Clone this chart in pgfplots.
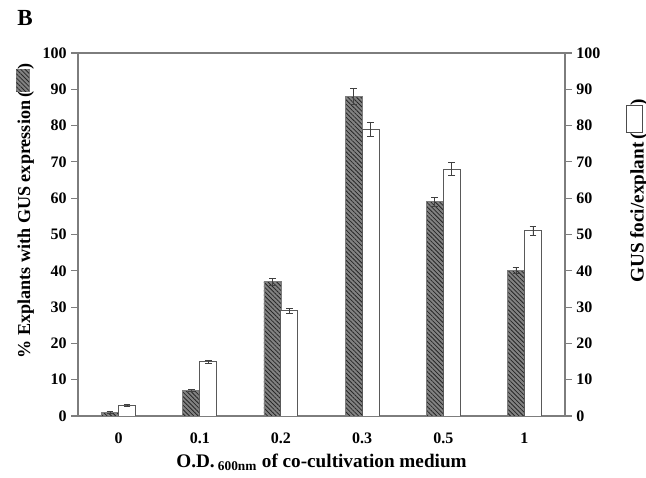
\documentclass[border=0pt]{standalone}
\usepackage{fontspec}
\setmainfont{Liberation Serif}
\usepackage{pgfplots}
\pgfplotsset{compat=1.18}
\usetikzlibrary{patterns.meta}
\definecolor{axisgray}{RGB}{125,125,125}
\definecolor{hatchfill}{RGB}{130,130,130}

\tikzset{hatched/.style={fill=hatchfill, postaction={pattern={Lines[angle=-45,distance=2.3pt,line width=0.6pt]}, pattern color=black!85}}}

\newcommand{\hatchbox}{\tikz[baseline=-0.05em]\draw[axisgray, hatched] (0,0) rectangle (1.2em,0.7em);}
\newcommand{\whitebox}{\tikz[baseline=-0.1em]\draw[black!70, fill=white] (0,0) rectangle (1.4em,0.8em);}

\begin{document}
\begin{tikzpicture}[x=0.75pt,y=0.75pt]
\begin{axis}[
  name=ax,
  scale only axis,
  width=487*0.75pt, height=363*0.75pt,
  xmin=-0.5, xmax=5.5,
  ymin=0, ymax=100,
  ybar=0pt, bar width=12.75pt,
  xtick={0,1,2,3,4,5},
  xticklabels={0,0.1,0.2,0.3,0.5,1},
  ytick={0,10,...,100},
  ytick pos=left,
  xtick style={draw=none},
  tick align=outside,
  major tick length=5pt,
  axis line style={axisgray, line width=0.8pt},
  every tick/.style={axisgray, line width=0.8pt},
  tick label style={font=\bfseries\large},
  /pgf/number format/assume math mode=true,
  xticklabel style={yshift=-4pt},
  xlabel={O.D.\,\textsubscript{600nm} of co-cultivation medium},
  xlabel style={font=\bfseries\Large, at={(rel axis cs:0.5,0)}, anchor=center, yshift=-46*0.75pt},
  ylabel={\% Explants with GUS expression\,(\hatchbox)},
  ylabel style={font=\bfseries\fontsize{13.6}{16}\selectfont, at={(rel axis cs:0,0.565)}, anchor=center, yshift=53*0.75pt},
  error bars/y dir=both,
  error bars/y explicit,
  error bars/error bar style={black!75, line width=0.6pt},
  error bars/error mark options={black!75, line width=0.6pt, mark size=2.5pt, rotate=90},
]
\addplot[draw=axisgray, line width=0.6pt, hatched] coordinates {
  (0,1) +- (0,0.2)
  (1,7) +- (0,0.3)
  (2,37) +- (0,0.9)
  (3,88) +- (0,2.2)
  (4,59) +- (0,1.3)
  (5,40) +- (0,0.8)
};
\addplot[draw=black!65, line width=0.7pt, fill=white] coordinates {
  (0,3) +- (0,0.3)
  (1,15) +- (0,0.4)
  (2,29) +- (0,0.7)
  (3,79) +- (0,2.0)
  (4,68) +- (0,1.8)
  (5,51) +- (0,1.2)
};
\end{axis}
\begin{axis}[
  scale only axis,
  width=487*0.75pt, height=363*0.75pt,
  xmin=-0.5, xmax=5.5,
  ymin=0, ymax=100,
  axis x line=none,
  axis y line*=right,
  ytick={0,10,...,100},
  tick align=outside,
  major tick length=5pt,
  axis line style={axisgray, line width=0.8pt, -},
  every tick/.style={axisgray, line width=0.8pt},
  tick label style={font=\bfseries\large},
  /pgf/number format/assume math mode=true,
  ylabel={GUS foci/explant\,(\whitebox)},
  ylabel style={font=\bfseries\Large, at={(rel axis cs:1,0.62)}, anchor=center, yshift=-72*0.75pt},
]
\end{axis}
\node[font=\bfseries\LARGE] at ([xshift=-53*0.75pt, yshift=35*0.75pt]ax.north west) {B};
\pgfresetboundingbox
\path ([xshift=-78*0.75pt, yshift=-62*0.75pt]ax.south west) rectangle ([xshift=81*0.75pt, yshift=53*0.75pt]ax.north east);
\end{tikzpicture}
\end{document}
